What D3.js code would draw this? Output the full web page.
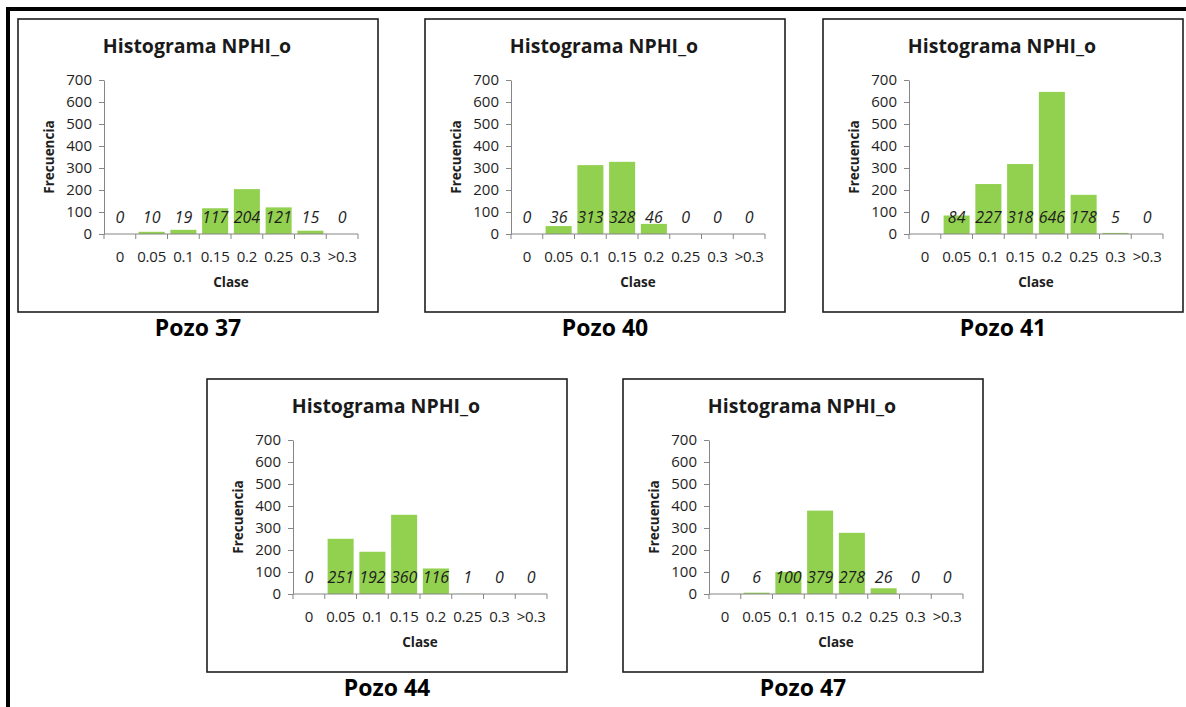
<!DOCTYPE html>
<html>
<head>
<meta charset="utf-8">
<script src="https://cdn.jsdelivr.net/npm/d3@7"></script>
<style>
  body { margin: 0; background: #fff; }
  svg text { font-family: "Open Sans", sans-serif; }
</style>
</head>
<body>
<svg id="fig" width="1186" height="707"></svg>
<script>
// clases del histograma (eje x)
const clases = ["0", "0.05", "0.1", "0.15", "0.2", "0.25", "0.3", ">0.3"];
const yTicks = [0, 100, 200, 300, 400, 500, 600, 700];

// frecuencias por pozo
const pozo37 = [0, 10, 19, 117, 204, 121, 15, 0];
const pozo40 = [0, 36, 313, 328, 46, 0, 0, 0];
const pozo41 = [0, 84, 227, 318, 646, 178, 5, 0];
const pozo44 = [0, 251, 192, 360, 116, 1, 0, 0];
const pozo47 = [0, 6, 100, 379, 278, 26, 0, 0];

const titulo = "Histograma NPHI_o";
const nombres = ["Pozo 37", "Pozo 40", "Pozo 41", "Pozo 44", "Pozo 47"];
const series = [pozo37, pozo40, pozo41, pozo44, pozo47];

// where each chart box sits
const boxes = [
  [18, 19], [425, 19], [823, 19],
  [207, 379], [623, 379]
];

var boxW = 360, boxH = 293,
    plotL = 86, plotT = 61, plotW = 254, plotH = 154;

let svg = d3.select('svg#fig');

// outer frame (only top + left visible)
svg.append('line')
    .attr('x1', 6).attr('x2', 1186).attr('y1', 9).attr('y2', 9)
    .attr('stroke', '#000').attr('stroke-width', 4);
svg.append('line')
    .attr('x1', 8).attr('x2', 8).attr('y1', 7).attr('y2', 707)
    .attr('stroke', '#000').attr('stroke-width', 4);

let x = d3.scaleBand()
    .domain(clases)
    .range([0, plotW])
    .paddingInner(0.18)
    .paddingOuter(0.09);

let xEdge = d3.scaleLinear()
    .domain([0, clases.length])
    .range([0, plotW]);

let y = d3.scaleLinear()
    .domain([0, 700])
    .range([plotH, 0]);

series.forEach(function(vals, k) {
    var bx = boxes[k][0], by = boxes[k][1];
    let g = svg.append('g').attr('transform', 'translate(' + bx + ',' + by + ')');

    g.append('rect')
        .attr('x', 0).attr('y', 0)
        .attr('width', boxW).attr('height', boxH)
        .attr('fill', '#fff')
        .attr('stroke', '#1e1e1e')
        .attr('stroke-width', 1.6);

    g.append('text')
        .attr('x', boxW / 2 - 1).attr('y', 34)
        .attr('text-anchor', 'middle')
        .attr('font-size', 19.5).attr('font-weight', 'bold')
        .attr('fill', '#1a1a1a')
        .text(titulo);

    let p = g.append('g').attr('transform', 'translate(' + plotL + ',' + plotT + ')');

    // bars
    p.selectAll('rect.bar')
        .data(vals)
        .enter().append('rect')
        .attr('class', 'bar')
        .attr('x', function(d, i) { return x(clases[i]); })
        .attr('width', x.bandwidth())
        .attr('y', function(d) { return y(d); })
        .attr('height', function(d) { return plotH - y(d); })
        .attr('fill', '#92d050');

    // y axis
    let ya = p.append('g')
        .call(d3.axisLeft(y).tickValues(yTicks).tickSize(5).tickPadding(7).tickSizeOuter(0));
    ya.select('.domain').attr('stroke', '#868686');
    ya.selectAll('.tick line').attr('stroke', '#868686');
    ya.selectAll('text')
        .attr('font-size', 15).attr('fill', '#1e1e1e')
        .style('font-family', '"Open Sans", sans-serif');

    // x axis: line + ticks at band edges
    p.append('line')
        .attr('x1', 0).attr('x2', plotW)
        .attr('y1', plotH).attr('y2', plotH)
        .attr('stroke', '#868686');
    p.selectAll('line.xt')
        .data(d3.range(clases.length + 1))
        .enter().append('line')
        .attr('class', 'xt')
        .attr('x1', function(d) { return xEdge(d); })
        .attr('x2', function(d) { return xEdge(d); })
        .attr('y1', plotH).attr('y2', plotH + 5)
        .attr('stroke', '#868686');
    p.selectAll('text.xl')
        .data(clases)
        .enter().append('text')
        .attr('class', 'xl')
        .attr('x', function(d) { return x(d) + x.bandwidth() / 2; })
        .attr('y', plotH + 28)
        .attr('text-anchor', 'middle')
        .attr('font-size', 15).attr('fill', '#1e1e1e')
        .attr('letter-spacing', -0.2)
        .text(function(d) { return d; });

    // data labels, all on one line above the axis
    p.selectAll('text.dl')
        .data(vals)
        .enter().append('text')
        .attr('class', 'dl')
        .attr('x', function(d, i) { return x(clases[i]) + x.bandwidth() / 2; })
        .attr('y', plotH - 11)
        .attr('text-anchor', 'middle')
        .attr('font-size', 16).attr('font-style', 'italic')
        .attr('fill', '#1e1e1e')
        .text(function(d) { return d; });

    // axis titles
    p.append('text')
        .attr('x', plotW / 2).attr('y', plotH + 53)
        .attr('text-anchor', 'middle')
        .attr('font-size', 13.5).attr('font-weight', 'bold')
        .attr('fill', '#1e1e1e')
        .text('Clase');
    p.append('text')
        .attr('transform', 'translate(' + (32 - plotL + 4) + ',' + (plotH / 2) + ') rotate(-90)')
        .attr('text-anchor', 'middle')
        .attr('font-size', 13.5).attr('font-weight', 'bold')
        .attr('fill', '#1e1e1e')
        .text('Frecuencia');

    // caption under the box
    g.append('text')
        .attr('x', boxW / 2).attr('y', boxH + 24)
        .attr('text-anchor', 'middle')
        .attr('font-size', 23).attr('font-weight', 'bold')
        .attr('fill', '#000')
        .text(nombres[k]);
});
</script>
</body>
</html>
